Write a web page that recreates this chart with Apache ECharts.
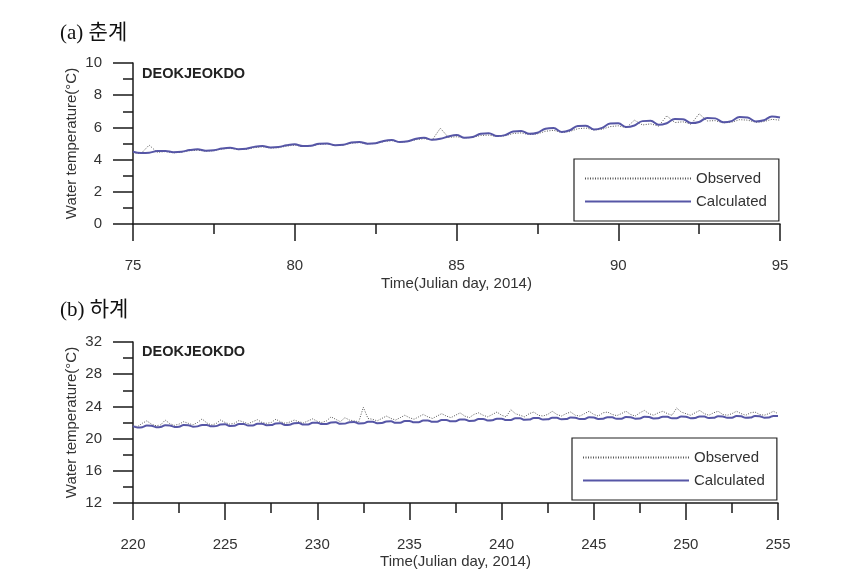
<!DOCTYPE html>
<html>
<head>
<meta charset="utf-8">
<script src="https://cdn.jsdelivr.net/npm/echarts@6/dist/echarts.min.js"></script>
<style>
html,body{margin:0;padding:0;background:#fff;}
#c{width:867px;height:577px;}
</style>
</head>
<body>
<div id="c"></div>
<script>
// ---------- data ----------
var seriesNames = ['Observed', 'Calculated'];
var stationName = 'DEOKJEOKDO';
var panelTitles = ['(a) 춘계', '(b) 하계'];
var xTicksA = [75, 80, 85, 90, 95];
var yTicksA = [0, 2, 4, 6, 8, 10];
var xTicksB = [220, 225, 230, 235, 240, 245, 250, 255];
var yTicksB = [12, 16, 20, 24, 28, 32];
var sampleStep = 0.25; // days between samples (6-hourly)
var startA = 75;
var startB = 220;

// Panel (a): spring, Julian day 75-95
var observedA = [
  4.42, 4.38, 4.90, 4.45,
  4.50, 4.42, 4.46, 4.55,
  4.58, 4.52, 4.55, 4.66,
  4.70, 4.62, 4.64, 4.74,
  4.80, 4.72, 4.74, 4.84,
  4.90, 4.82, 4.85, 4.94,
  4.98, 4.88, 4.90, 5.02,
  5.06, 4.98, 5.00, 5.12,
  5.18, 5.08, 5.12, 5.24,
  5.30, 5.22, 5.95, 5.38,
  5.42, 5.35, 5.38, 5.50,
  5.52, 5.44, 5.48, 5.62,
  5.66, 5.55, 5.60, 5.76,
  5.82, 5.68, 5.74, 5.92,
  5.96, 5.84, 5.88, 6.05,
  6.10, 5.98, 6.45, 6.15,
  6.22, 6.08, 6.72, 6.30,
  6.35, 6.20, 6.85, 6.40,
  6.42, 6.28, 6.32, 6.48,
  6.45, 6.32, 6.36, 6.50,
  6.45
];
var calculatedA = [
  4.49, 4.41, 4.43, 4.53,
  4.54, 4.46, 4.49, 4.59,
  4.64, 4.55, 4.58, 4.69,
  4.74, 4.65, 4.68, 4.79,
  4.84, 4.75, 4.78, 4.89,
  4.95, 4.84, 4.86, 4.99,
  5.00, 4.89, 4.92, 5.06,
  5.10, 4.99, 5.02, 5.16,
  5.21, 5.09, 5.14, 5.29,
  5.35, 5.23, 5.29, 5.44,
  5.53, 5.36, 5.40, 5.60,
  5.63, 5.46, 5.52, 5.75,
  5.78, 5.60, 5.67, 5.92,
  5.96, 5.72, 5.82, 6.09,
  6.11, 5.87, 5.97, 6.24,
  6.26, 6.02, 6.12, 6.39,
  6.41, 6.16, 6.26, 6.52,
  6.51, 6.27, 6.34, 6.59,
  6.56, 6.32, 6.39, 6.64,
  6.61, 6.37, 6.44, 6.68,
  6.62
];

// Panel (b): summer, Julian day 220-255
var observedB = [
  21.60, 21.50, 21.90, 22.20,
  21.80, 21.60, 21.70, 22.30,
  21.85, 21.65, 21.80, 22.10,
  21.90, 21.70, 22.00, 22.45,
  21.95, 21.70, 21.85, 22.30,
  22.00, 21.80, 21.90, 22.25,
  22.05, 21.85, 22.10, 22.35,
  22.00, 21.90, 22.00, 22.40,
  22.10, 21.90, 22.05, 22.30,
  22.10, 21.95, 22.20, 22.45,
  22.15, 22.00, 22.20, 22.70,
  22.40, 22.10, 22.60, 22.30,
  22.20, 22.10, 23.90, 22.50,
  22.40, 22.20, 22.50, 22.80,
  22.50, 22.30, 22.60, 22.90,
  22.60, 22.40, 22.70, 23.00,
  22.70, 22.50, 22.80, 23.10,
  22.80, 22.60, 22.90, 23.20,
  22.80, 22.60, 23.00, 23.20,
  22.90, 22.70, 23.00, 23.30,
  22.90, 22.70, 23.60, 23.10,
  22.90, 22.70, 23.10, 23.30,
  22.90, 22.80, 23.00, 23.40,
  23.00, 22.80, 23.10, 23.30,
  22.90, 22.80, 23.10, 23.40,
  23.00, 22.80, 23.20, 23.30,
  23.00, 22.85, 23.10, 23.40,
  23.00, 22.80, 23.20, 23.50,
  23.10, 22.90, 23.20, 23.40,
  23.10, 22.90, 23.80, 23.30,
  23.10, 22.90, 23.20, 23.50,
  23.10, 22.90, 23.20, 23.40,
  23.00, 22.90, 23.10, 23.40,
  23.10, 22.90, 23.20, 23.30,
  23.00, 22.90, 23.10, 23.40,
  23.10
];
var calculatedB = [
  21.55, 21.38, 21.42, 21.62,
  21.60, 21.42, 21.45, 21.65,
  21.63, 21.45, 21.48, 21.68,
  21.66, 21.48, 21.52, 21.70,
  21.70, 21.52, 21.55, 21.74,
  21.78, 21.58, 21.60, 21.80,
  21.82, 21.62, 21.64, 21.84,
  21.86, 21.66, 21.68, 21.88,
  21.90, 21.70, 21.72, 21.92,
  21.94, 21.74, 21.76, 21.96,
  21.98, 21.80, 21.82, 22.00,
  22.02, 21.84, 21.86, 22.04,
  22.06, 21.88, 21.90, 22.08,
  22.10, 21.92, 21.94, 22.12,
  22.14, 21.96, 21.98, 22.18,
  22.20, 22.02, 22.04, 22.24,
  22.26, 22.08, 22.10, 22.30,
  22.32, 22.14, 22.16, 22.36,
  22.38, 22.20, 22.22, 22.42,
  22.44, 22.26, 22.28, 22.48,
  22.48, 22.30, 22.32, 22.52,
  22.52, 22.34, 22.36, 22.56,
  22.55, 22.37, 22.39, 22.59,
  22.58, 22.40, 22.42, 22.62,
  22.60, 22.42, 22.44, 22.64,
  22.62, 22.44, 22.46, 22.66,
  22.64, 22.46, 22.48, 22.68,
  22.66, 22.48, 22.50, 22.70,
  22.68, 22.50, 22.52, 22.72,
  22.70, 22.52, 22.54, 22.74,
  22.72, 22.54, 22.56, 22.76,
  22.74, 22.56, 22.58, 22.78,
  22.76, 22.58, 22.60, 22.80,
  22.77, 22.59, 22.61, 22.81,
  22.78, 22.60, 22.62, 22.82,
  22.80
];

// ---------- chart ----------
function pairs(start, arr) {
  return arr.map(function (v, i) { return [start + i * sampleStep, v]; });
}
var FONT = '"Liberation Sans", Arial, sans-serif';
var AXIS_COLOR = '#1a1a1a';
var TEXT_COLOR = '#333';
var OBS_COLOR = '#555';
var CAL_COLOR = '#5656a6';

function xAxisCfg(grid, ticks, name, nameGap) {
  return {
    type: 'value', gridIndex: grid,
    min: ticks[0], max: ticks[ticks.length - 1], interval: ticks[1] - ticks[0],
    splitLine: { show: false },
    axisLine: { show: true, onZero: false, lineStyle: { color: AXIS_COLOR, width: 1.5 } },
    axisTick: { show: true, inside: false, length: 17, lineStyle: { color: AXIS_COLOR, width: 1.5 } },
    minorTick: { show: true, splitNumber: 2, length: 10, lineStyle: { color: AXIS_COLOR, width: 1.5 } },
    axisLabel: { margin: 34, fontSize: 15, color: TEXT_COLOR, fontFamily: FONT },
    name: name, nameLocation: 'middle', nameGap: nameGap,
    nameTextStyle: { fontSize: 15, color: TEXT_COLOR, fontFamily: FONT }
  };
}
function yAxisCfg(grid, ticks) {
  return {
    type: 'value', gridIndex: grid,
    min: ticks[0], max: ticks[ticks.length - 1], interval: ticks[1] - ticks[0],
    splitLine: { show: false },
    axisLine: { show: true, onZero: false, lineStyle: { color: AXIS_COLOR, width: 1.5 } },
    axisTick: { show: true, inside: false, length: 20, lineStyle: { color: AXIS_COLOR, width: 1.5 } },
    minorTick: { show: true, splitNumber: 2, length: 10, lineStyle: { color: AXIS_COLOR, width: 1.5 } },
    axisLabel: { margin: 31, fontSize: 15, color: TEXT_COLOR, fontFamily: FONT },
    name: 'Water temperature(°C)', nameLocation: 'middle', nameGap: 54,
    nameMoveOverlap: false,
    nameTextStyle: { fontSize: 15, color: TEXT_COLOR, fontFamily: FONT }
  };
}
function legendCfg(left, top) {
  return {
    data: seriesNames, orient: 'vertical', left: left, top: top,
    itemWidth: 106, itemHeight: 14, itemGap: 8,
    padding: [12, 12, 12, 10],
    borderColor: '#222', borderWidth: 1.2,
    itemStyle: { opacity: 0 },
    textStyle: { fontSize: 15, color: TEXT_COLOR, fontFamily: FONT },
    selectedMode: false
  };
}
function obsSeries(idx, data) {
  return {
    name: seriesNames[0], type: 'line', xAxisIndex: idx, yAxisIndex: idx,
    data: data, symbol: 'none', smooth: false,
    lineStyle: { color: OBS_COLOR, width: 1, type: [1, 1.5] },
    itemStyle: { color: OBS_COLOR }, z: 2
  };
}
function calSeries(idx, data) {
  return {
    name: seriesNames[1], type: 'line', xAxisIndex: idx, yAxisIndex: idx,
    data: data, symbol: 'none', smooth: 0.4,
    lineStyle: { color: CAL_COLOR, width: 2 },
    itemStyle: { color: CAL_COLOR }, z: 3
  };
}
var SERIF = '"Liberation Serif", "Noto Sans CJK KR", serif';

var chart = echarts.init(document.getElementById('c'), null, { renderer: 'canvas' });
chart.setOption({
  backgroundColor: '#fff',
  animation: false,
  title: [
    { text: panelTitles[0], left: 60, top: 23, padding: 0, textStyle: { fontFamily: SERIF, fontSize: 21, fontWeight: 'normal', color: '#111' } },
    { text: panelTitles[1], left: 60, top: 300, padding: 0, textStyle: { fontFamily: SERIF, fontSize: 21, fontWeight: 'normal', color: '#111' } },
    { text: stationName, left: 142, top: 66, padding: 0, textStyle: { fontFamily: FONT, fontSize: 14.5, fontWeight: 'bold', color: '#222' } },
    { text: stationName, left: 142, top: 344, padding: 0, textStyle: { fontFamily: FONT, fontSize: 14.5, fontWeight: 'bold', color: '#222' } }
  ],
  legend: [legendCfg(574, 159), legendCfg(572, 438)],
  grid: [
    { left: 133, top: 63, width: 647, height: 161 },
    { left: 133, top: 342, width: 645, height: 161 }
  ],
  xAxis: [
    xAxisCfg(0, xTicksA, 'Time(Julian day, 2014)', 52),
    xAxisCfg(1, xTicksB, 'Time(Julian day, 2014)', 51)
  ],
  yAxis: [yAxisCfg(0, yTicksA), yAxisCfg(1, yTicksB)],
  series: [
    obsSeries(0, pairs(startA, observedA)),
    calSeries(0, pairs(startA, calculatedA)),
    obsSeries(1, pairs(startB, observedB)),
    calSeries(1, pairs(startB, calculatedB))
  ]
});
</script>
</body>
</html>
